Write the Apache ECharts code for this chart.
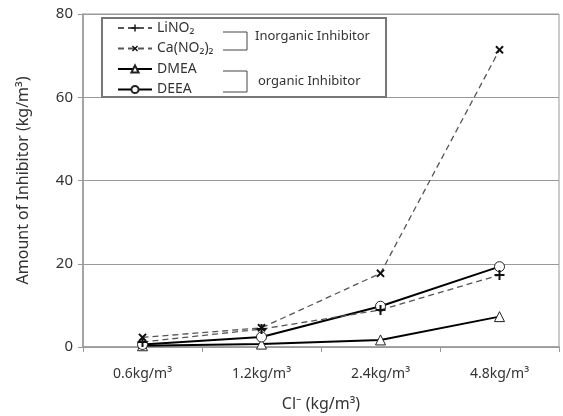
<!DOCTYPE html>
<html>
<head>
<meta charset="utf-8">
<script src="https://cdn.jsdelivr.net/npm/echarts@6/dist/echarts.min.js"></script>
<style>
  html, body { margin: 0; padding: 0; background: #fff; }
  #chart { width: 563px; height: 416px; }
</style>
</head>
<body>
<div id="chart"></div>
<script>
// 数据
var categories = ['0.6kg/m³', '1.2kg/m³', '2.4kg/m³', '4.8kg/m³'];
var lino2 = [1.2, 4.3, 8.9, 17.3];
var cano2 = [2.3, 4.6, 17.7, 71.4];
var dmea = [0.3, 0.7, 1.7, 7.3];
var deea = [0.6, 2.4, 9.8, 19.3];
var yTicks = [0, 20, 40, 60, 80];

var plus = 'path://M4,0H6V4H10V6H6V10H4V6H0V4H4Z';
var font = 'Noto Sans';

var myChart = echarts.init(document.getElementById('chart'));

function dashed(name, data, rotate) {
    return {
        name: name,
        type: 'line',
        data: data,
        symbol: plus,
        symbolSize: 10,
        symbolRotate: rotate,
        itemStyle: { color: '#111' },
        lineStyle: { color: '#555', width: 1.3, type: [6, 4] },
        z: 3
    };
}

function solid(name, data, symbol) {
    return {
        name: name,
        type: 'line',
        data: data,
        symbol: symbol,
        symbolSize: 10,
        itemStyle: { color: '#fff', borderColor: '#222', borderWidth: 1 },
        lineStyle: { color: '#000', width: 2 },
        z: 2
    };
}

var option = {
    animation: false,
    textStyle: { fontFamily: font },
    grid: {
        left: 83, right: 4, top: 14, bottom: 69,
        outerBoundsMode: 'none',
        show: true, borderColor: '#999', borderWidth: 1
    },
    legend: {
        orient: 'vertical',
        left: 112, top: 16,
        itemWidth: 34, itemHeight: 9, itemGap: 6.5,
        textStyle: { fontFamily: font, fontSize: 14, color: '#333' },
        data: ['LiNO₂', 'Ca(NO₂)₂', 'DMEA', 'DEEA']
    },
    xAxis: {
        type: 'category',
        data: categories,
        boundaryGap: true,
        name: 'Cl⁻ (kg/m³)',
        nameLocation: 'middle',
        nameGap: 49,
        nameTextStyle: { fontSize: 16, color: '#333', fontFamily: font },
        axisLine: { lineStyle: { color: '#999', width: 1.5 } },
        axisTick: { show: true, length: 5, lineStyle: { color: '#999' } },
        axisLabel: { fontSize: 14, color: '#333', margin: 20 }
    },
    yAxis: {
        type: 'value',
        min: yTicks[0],
        max: yTicks[yTicks.length - 1],
        interval: 20,
        name: 'Amount of Inhibitor (kg/m³)',
        nameLocation: 'middle',
        nameGap: 52,
        nameTextStyle: { fontSize: 16, color: '#333', fontFamily: font },
        axisLine: { show: true, lineStyle: { color: '#999', width: 1.5 } },
        axisTick: { show: true, length: 5, lineStyle: { color: '#999' } },
        axisLabel: { fontSize: 15, color: '#333', margin: 10 },
        splitLine: { lineStyle: { color: '#999' } }
    },
    graphic: [
        // legend box
        { type: 'rect', shape: { x: 102, y: 18, width: 284, height: 79 },
          style: { fill: 'rgba(255,255,255,0)', stroke: '#777', lineWidth: 2 }, z: 1 },
        // brackets
        { type: 'polyline', shape: { points: [[223, 32], [247, 32], [247, 50], [223, 50]] },
          style: { fill: null, stroke: '#444', lineWidth: 1 } },
        { type: 'text', left: 255, top: 30,
          style: { text: 'Inorganic Inhibitor', font: '13px "Noto Sans"', fill: '#333' } },
        { type: 'polyline', shape: { points: [[223, 71], [247, 71], [247, 92], [223, 92]] },
          style: { fill: null, stroke: '#444', lineWidth: 1 } },
        { type: 'text', left: 258, top: 75,
          style: { text: 'organic Inhibitor', font: '13px "Noto Sans"', fill: '#333' } }
    ],
    series: [
        dashed('LiNO₂', lino2, 0),
        dashed('Ca(NO₂)₂', cano2, 45),
        solid('DMEA', dmea, 'triangle'),
        solid('DEEA', deea, 'circle')
    ]
};

myChart.setOption(option);
</script>
</body>
</html>
